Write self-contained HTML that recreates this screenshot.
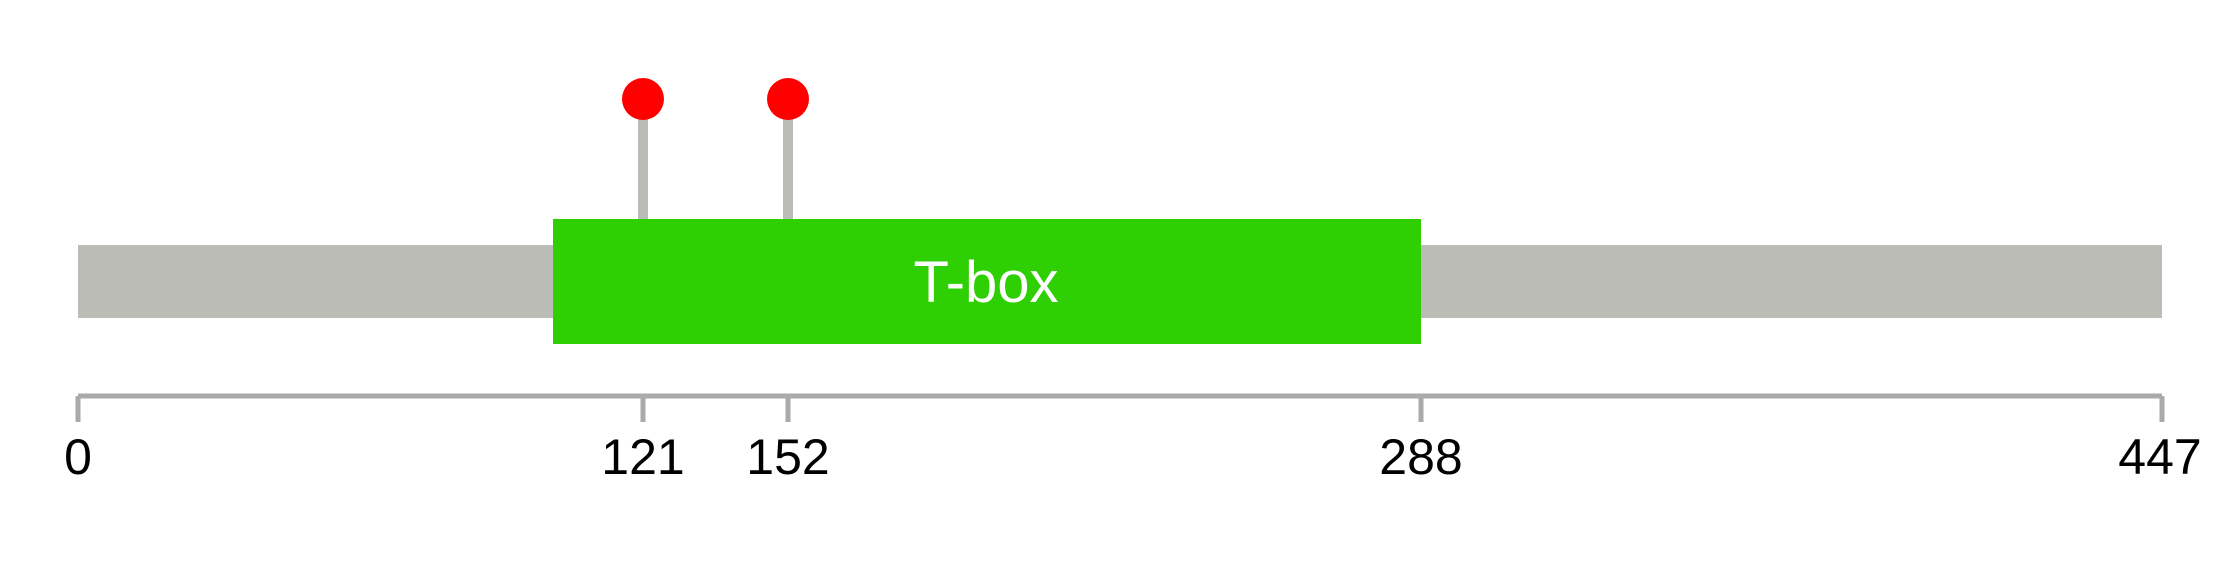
<!DOCTYPE html>
<html><head><style>html,body{margin:0;padding:0;background:#fff;}</style></head>
<body>
<svg width="2239" height="578" viewBox="0 0 2239 578" xmlns="http://www.w3.org/2000/svg">
<rect x="0" y="0" width="2239" height="578" fill="#fff"/>
<rect x="78" y="245" width="2084" height="73" fill="#babcb5"/>
<line x1="643" y1="110" x2="643" y2="219" stroke="#babcb5" stroke-width="10"/>
<line x1="788" y1="110" x2="788" y2="219" stroke="#babcb5" stroke-width="10"/>
<circle cx="643" cy="99" r="21" fill="#ff0000"/>
<circle cx="788" cy="99" r="21" fill="#ff0000"/>
<rect x="553" y="219" width="868" height="125" fill="#2ecf03"/>
<text x="986" y="302" font-family="Liberation Sans, sans-serif" font-size="58" fill="#fff" text-anchor="middle">T-box</text>
<line x1="78" y1="396" x2="2162" y2="396" stroke="#aaaaaa" stroke-width="5"/>
<g stroke="#aaaaaa" stroke-width="5">
<line x1="78" y1="396" x2="78" y2="422"/>
<line x1="643" y1="396" x2="643" y2="422"/>
<line x1="788" y1="396" x2="788" y2="422"/>
<line x1="1421" y1="396" x2="1421" y2="422"/>
<line x1="2162" y1="396" x2="2162" y2="422"/>
</g>
<g font-family="Liberation Sans, sans-serif" font-size="50" fill="#000" text-anchor="middle">
<text x="78" y="474">0</text>
<text x="643" y="474">121</text>
<text x="788" y="474">152</text>
<text x="1421" y="474">288</text>
<text x="2160" y="474">447</text>
</g>
</svg>
</body></html>
